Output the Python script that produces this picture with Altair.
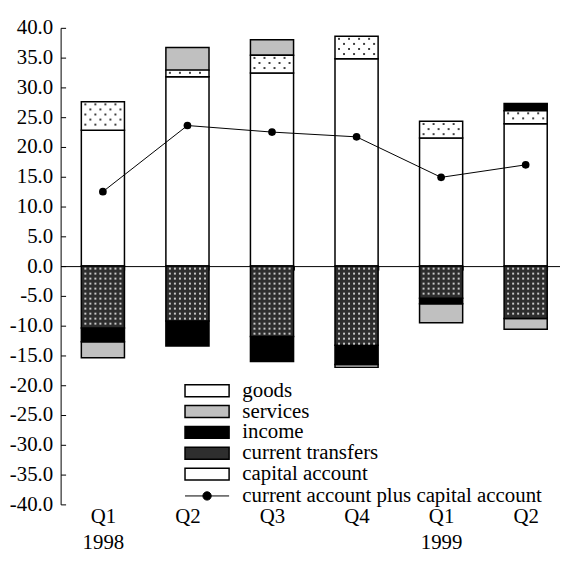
import json
import altair as alt
import pandas as pd

periods = ["Q1 1998", "Q2 1998", "Q3 1998", "Q4 1998", "Q1 1999", "Q2 1999"]
tick_labels = [["Q1", "1998"], ["Q2"], ["Q3"], ["Q4"], ["Q1", "1999"], ["Q2"]]

goods = [22.8, 31.8, 32.4, 34.8, 21.5, 23.9]
services = [-2.7, 3.8, 2.6, -0.5, -3.2, -1.8]
income = [-2.3, -4.2, -4.2, -3.2, -0.9, 1.2]
current_transfers = [-10.4, -9.2, -11.8, -13.3, -5.4, -8.8]
capital_account = [4.8, 1.1, 3.0, 3.8, 2.8, 2.2]
ca_plus_capital = [12.5, 23.6, 22.5, 21.7, 14.9, 17.0]

components = ["goods", "services", "income", "current transfers", "capital account"]
comp_values = [goods, services, income, current_transfers, capital_account]
stack_order = {"goods": 0, "current transfers": 1, "capital account": 2, "income": 3, "services": 4}
fills = ["white", "#c0c0c0", "black", "#2e2e2e", "white"]

rows = []
for comp, vals in zip(components, comp_values):
    for p, v in zip(periods, vals):
        rows.append({"period": p, "component": comp, "value": v, "ord": stack_order[comp]})
bars_df = pd.DataFrame(rows)
line_df = pd.DataFrame({"period": periods, "value": ca_plus_capital,
                        "series": ["current account plus capital account"] * len(periods)})

FONT = "Liberation Serif"
FS = 21
W, H = 511, 480
PAD_IN = 0.49

label_expr = " : ".join(
    f"datum.value == '{p}' ? {lab!r}" for p, lab in zip(periods, tick_labels)
) + " : datum.value"
idx_expr = f"indexof({json.dumps(periods)}, datum.period)"

xscale = alt.Scale(domain=periods, paddingInner=PAD_IN, paddingOuter=PAD_IN / 2)
xqscale = alt.Scale(domain=[-0.5, len(periods) - 0.5], nice=False, zero=False)
yscale = alt.Scale(domain=[-40, 40], nice=False, zero=False)

bars = alt.Chart(bars_df).mark_bar(stroke="black", strokeWidth=1.5).encode(
    x=alt.X("period:N", sort=periods, scale=xscale,
            axis=alt.Axis(orient="bottom", offset=-H / 2, labels=False, title=None,
                          domainColor="black", tickColor="black", tickSize=4,
                          tickBand="extent", domainWidth=1, tickWidth=1)),
    y=alt.Y("value:Q", stack="zero", scale=yscale,
            axis=alt.Axis(orient="right", offset=-W, labels=False, title=None,
                          values=list(range(-40, 41, 5)), tickSize=5,
                          domainColor="black", tickColor="black", grid=False)),
    fill=alt.Fill("component:N", scale=alt.Scale(domain=components, range=fills),
                  legend=alt.Legend(orient="none", legendX=137, legendY=355, title=None,
                                    symbolType="M-3.7,-1H3.7V1H-3.7Z", symbolSize=144,
                                    symbolStrokeColor="black", symbolStrokeWidth=1.5,
                                    labelFont=FONT, labelFontSize=FS, labelColor="black",
                                    labelOffset=25, rowPadding=-1.2, padding=0, labelLimit=500)),
    order=alt.Order("ord:Q"),
)

# texture dots, derived from the stacked segments
stacked = alt.Chart(bars_df).transform_stack(
    stack="value", groupby=["period"], sort=[alt.SortField("ord", order="ascending")],
    as_=["y0", "y1"], offset="zero"
).transform_calculate(
    lo="min(datum.y0, datum.y1)", hi="max(datum.y0, datum.y1)", idx=idx_expr
)

col_step = (1 - PAD_IN) * 0.93 / 8

transfer_dots = stacked.transform_filter(
    alt.datum.component == "current transfers"
).transform_calculate(
    ys="sequence(datum.hi - 0.42, datum.lo + 0.2, -0.84)", cols="sequence(0, 8)"
).transform_flatten(["ys"]).transform_flatten(["cols"]).transform_calculate(
    xi=f"datum.idx + (datum.cols - 3.5) * {col_step}"
).mark_square(size=4, color="#c8c8c8", opacity=1, filled=True).encode(
    x=alt.X("xi:Q", scale=xqscale, axis=None),
    y=alt.Y("ys:Q", scale=yscale, axis=None),
)

capital_dots = stacked.transform_filter(
    alt.datum.component == "capital account"
).transform_calculate(
    ys="sequence(datum.hi - 0.45, datum.lo + 0.25, -0.85)"
).transform_flatten(["ys"]).transform_calculate(
    row="round((datum.hi - datum.ys) / 0.85)",
    cols="datum.row % 2 == 0 ? [1, 3, 5, 7] : [0, 2, 4, 6]"
).transform_flatten(["cols"]).transform_calculate(
    xi=f"datum.idx + (datum.cols - 3.5) * {col_step}"
).mark_square(size=4, color="#404040", opacity=1, filled=True).encode(
    x=alt.X("xi:Q", scale=xqscale, axis=None),
    y=alt.Y("ys:Q", scale=yscale, axis=None),
)

line = alt.Chart(line_df).mark_line(strokeWidth=1).encode(
    x=alt.X("period:N", sort=periods, scale=xscale,
            axis=alt.Axis(orient="bottom", domain=False, ticks=False, title=None,
                          labelExpr=label_expr, labelFont=FONT, labelFontSize=FS,
                          labelColor="black", labelPadding=1, labelLineHeight=26,
                          labelAngle=0)),
    y=alt.Y("value:Q", scale=yscale,
            axis=alt.Axis(orient="left", domain=False, ticks=False, title=None,
                          values=list(range(-40, 41, 5)),
                          labelExpr="datum.value < 0 ? '-' + format(-datum.value, '.1f') : format(datum.value, '.1f')",
                          labelFont=FONT, labelFontSize=FS, labelColor="black",
                          labelPadding=8, grid=False)),
    stroke=alt.Stroke("series:N", scale=alt.Scale(range=["black"]),
                      legend=alt.Legend(orient="none", legendX=137, legendY=461, title=None,
                                        symbolType="M-3.7,0H3.7M-0.7,0A0.7,0.7,0,1,1,0.7,0A0.7,0.7,0,1,1,-0.7,0Z",
                                        symbolSize=144, symbolFillColor="black",
                                        symbolStrokeWidth=1,
                                        labelFont=FONT, labelFontSize=FS, labelColor="black",
                                        labelOffset=25, padding=0, labelLimit=500)),
)

points = alt.Chart(line_df).mark_point(filled=True, color="black", size=60, opacity=1).encode(
    x=alt.X("period:N", sort=periods, scale=xscale, axis=None),
    y=alt.Y("value:Q", scale=yscale, axis=None),
)

chart = alt.layer(bars, transfer_dots, capital_dots, line, points).resolve_scale(
    x="independent"
).resolve_axis(
    x="independent", y="independent"
).properties(
    width=W, height=H, padding={"left": 1, "top": 7, "right": -8, "bottom": 0}
).configure_view(stroke=None)

chart.save("out.html", embed_options={"renderer": "svg", "actions": False})
